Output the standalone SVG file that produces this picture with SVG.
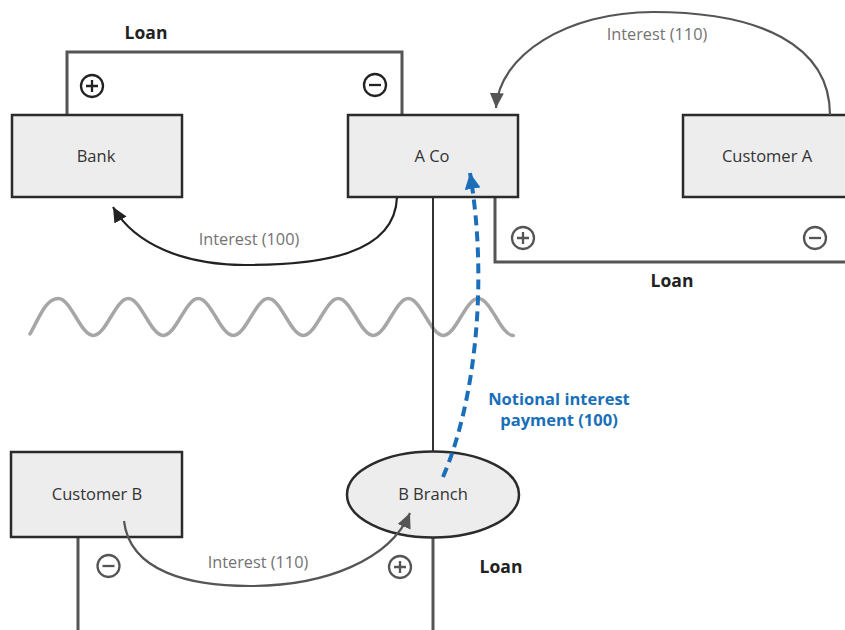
<svg xmlns="http://www.w3.org/2000/svg" width="845" height="630" viewBox="0 0 845 630">
  <defs>
    <style>
      .box { fill: #ededed; stroke: #2b2b2b; stroke-width: 2.5; }
      .lbl { font-family: "Open Sans", "Noto Sans", "Liberation Sans", sans-serif; font-size: 16.5px; fill: #333; text-anchor: middle; }
      .flow { font-family: "Open Sans", "Noto Sans", "Liberation Sans", sans-serif; font-size: 16.3px; fill: #737373; text-anchor: middle; }
      .loan { font-family: "Open Sans", "Noto Sans", "Liberation Sans", sans-serif; font-size: 17.5px; font-weight: bold; fill: #222; text-anchor: middle; }
      .note { font-family: "Open Sans", "Noto Sans", "Liberation Sans", sans-serif; font-size: 16.5px; font-weight: bold; fill: #1a6fb8; text-anchor: middle; }
      .bracket { fill: none; stroke: #555; stroke-width: 3; }
      .thin { fill: none; stroke: #333; stroke-width: 2; }
      .arcK { fill: none; stroke: #222; stroke-width: 2.2; }
      .arcG { fill: none; stroke: #555; stroke-width: 2.2; }
      .sgnK { fill: none; stroke: #222; stroke-width: 2.3; }
      .sgnG { fill: none; stroke: #555; stroke-width: 2.3; }
    </style>
    <marker id="ahK" markerUnits="userSpaceOnUse" markerWidth="16" markerHeight="14" refX="15" refY="7" orient="auto">
      <path d="M0,0 L15,7 L0,14 Z" fill="#222"/>
    </marker>
    <marker id="ahG" markerUnits="userSpaceOnUse" markerWidth="16" markerHeight="14" refX="15" refY="7" orient="auto">
      <path d="M0,0 L15,7 L0,14 Z" fill="#555"/>
    </marker>
    <marker id="ahB" markerUnits="userSpaceOnUse" markerWidth="17" markerHeight="16" refX="16" refY="8" orient="auto">
      <path d="M0,0 L16,8 L0,16 Z" fill="#1a6fb8"/>
    </marker>
  </defs>

  <!-- wave separator -->
  <path id="wave" fill="none" stroke="#a6a6a6" stroke-width="3.5" stroke-linecap="round"
        d="M30,334 C40,316 46,298.5 58.3,298.5 C71,298.5 80.6,335.5 93.3,335.5 C106,335.5 115.6,298.5 128.3,298.5 C141,298.5 150.6,335.5 163.3,335.5 C176,335.5 185.6,298.5 198.3,298.5 C211,298.5 220.6,335.5 233.3,335.5 C246,335.5 255.6,298.5 268.3,298.5 C281,298.5 290.6,335.5 303.3,335.5 C316,335.5 325.6,298.5 338.3,298.5 C351,298.5 360.6,335.5 373.3,335.5 C386,335.5 395.6,298.5 408.3,298.5 C421,298.5 430.6,335.5 443.3,335.5 C456,335.5 465.6,298.5 478.3,298.5 C491,298.5 500.6,335.5 513.3,335.5"/>

  <!-- loan brackets and structural lines -->
  <g id="loan-lines">
    <path class="bracket" d="M67,115 V52 H402 V115"/>
    <path class="bracket" d="M495,197 V262 H860"/>
    <path class="thin" d="M433,197 V452"/>
    <path class="bracket" d="M78,537 V630"/>
    <path class="bracket" d="M433,537 V630"/>
  </g>

  <!-- nodes -->
  <g id="bank">
    <rect class="box" x="12" y="115" width="170" height="82"/>
    <text class="lbl" x="96" y="161.5">Bank</text>
  </g>
  <g id="aco">
    <rect class="box" x="348" y="115" width="170" height="82"/>
    <text class="lbl" x="432" y="161.5">A Co</text>
  </g>
  <g id="customer-a">
    <rect class="box" x="683" y="115" width="170" height="82"/>
    <text class="lbl" x="767" y="161.5">Customer A</text>
  </g>
  <g id="customer-b">
    <rect class="box" x="11" y="452" width="171" height="85"/>
    <text class="lbl" x="97" y="500">Customer B</text>
  </g>
  <g id="b-branch">
    <ellipse class="box" cx="433" cy="494.5" rx="86" ry="43"/>
    <text class="lbl" x="433" y="500">B Branch</text>
  </g>

  <!-- connectors -->
  <g id="connectors">
    <path class="arcK" marker-end="url(#ahK)" d="M397,197 C395,255 320,265 245,265 C185,265 135,245 113,207"/>
    <path class="arcG" marker-end="url(#ahG)" d="M830,115 C830,45 760,12 653,12 C567,12 499,55 496,108"/>
    <path class="arcG" marker-end="url(#ahG)" d="M124,521 C130,572 190,586 250,586 C325,586 390,560 410,513"/>
    <path fill="none" stroke="#1a6fb8" stroke-width="4" stroke-dasharray="10 6" marker-end="url(#ahB)" d="M443,477 C476,400 488,280 470,173"/>
  </g>

  <!-- plus / minus signs -->
  <g id="signs">
    <g class="sgnK">
      <circle cx="92" cy="86" r="11"/>
      <path d="M86,86 H98 M92,80 V92"/>
      <circle cx="375" cy="85" r="11"/>
      <path d="M369,85 H381"/>
    </g>
    <g class="sgnG">
      <circle cx="523" cy="238" r="11"/>
      <path d="M517,238 H529 M523,232 V244"/>
      <circle cx="815" cy="238" r="11"/>
      <path d="M809,238 H821"/>
      <circle cx="108.5" cy="566" r="11"/>
      <path d="M102.5,566 H114.5"/>
      <circle cx="400" cy="567" r="11"/>
      <path d="M394,567 H406 M400,561 V573"/>
    </g>
  </g>

  <!-- labels -->
  <g id="labels">
    <text class="loan" x="146" y="39">Loan</text>
    <text class="loan" x="672" y="287">Loan</text>
    <text class="loan" x="501" y="573">Loan</text>
    <text class="flow" x="249" y="245">Interest (100)</text>
    <text class="flow" x="657" y="40">Interest (110)</text>
    <text class="flow" x="258" y="568">Interest (110)</text>
    <text class="note" x="559" y="405">Notional interest</text>
    <text class="note" x="559" y="426">payment (100)</text>
  </g>
</svg>
